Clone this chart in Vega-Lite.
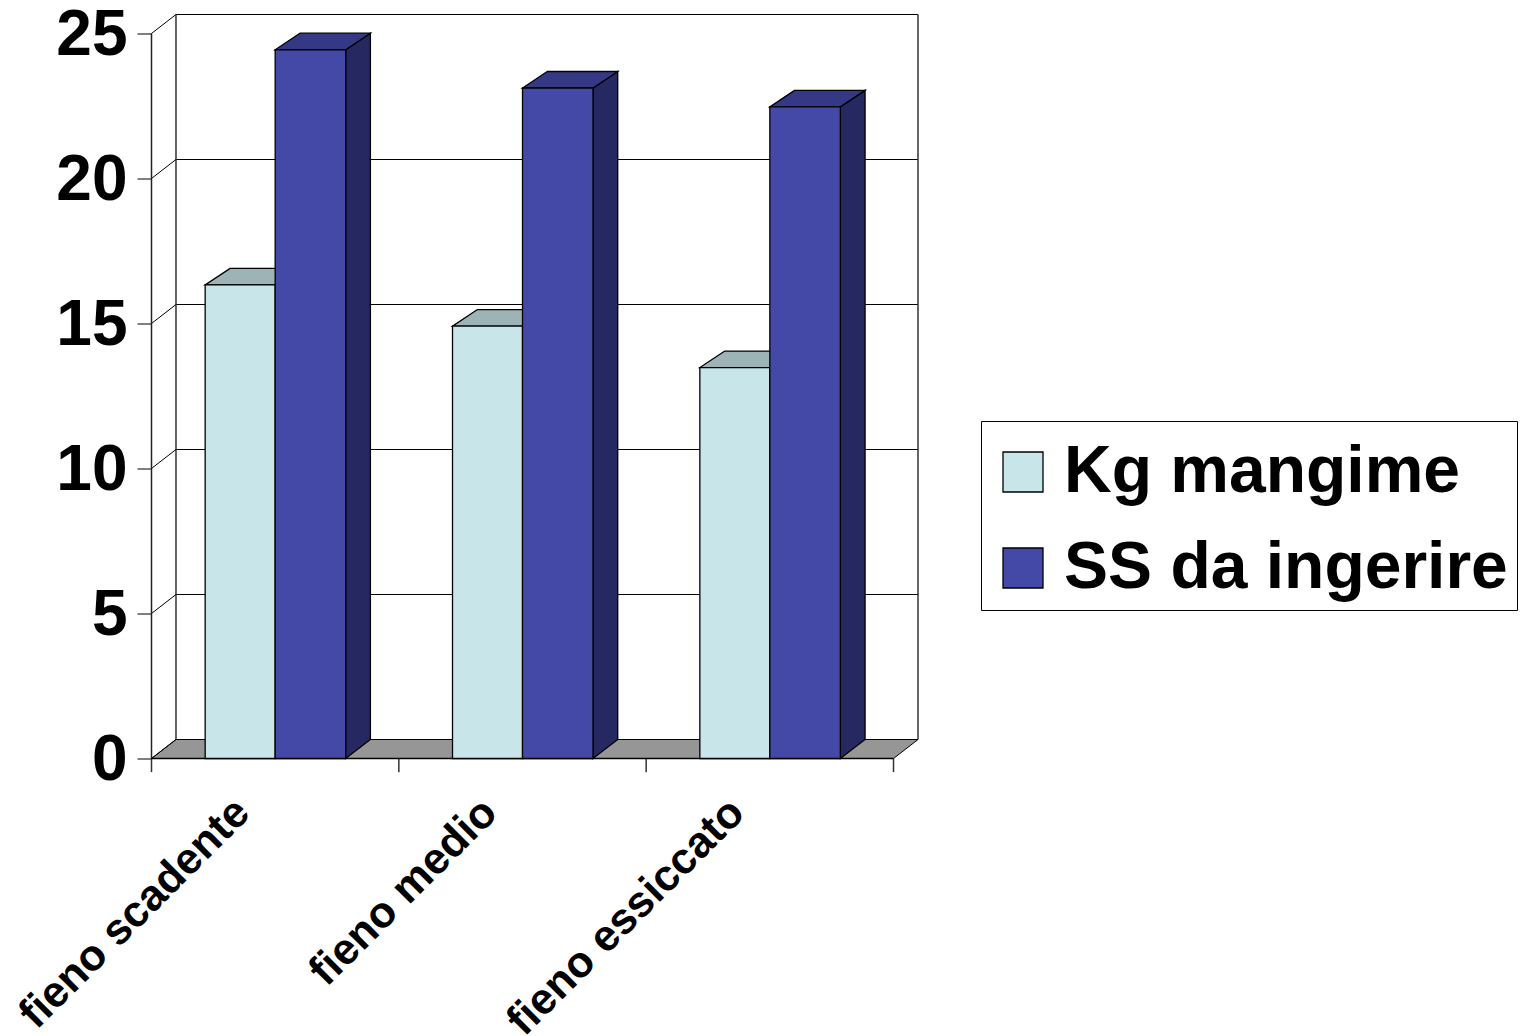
{
"$schema":"https://vega.github.io/schema/vega-lite/v6.json",
"autosize":{"type":"none"},
"padding":{"left":151.5,"top":14.5,"right":602,"bottom":277.5},
"background":"white",
"width":766.5,"height":744,
"view":{"stroke":null},
"datasets":{
"bars":[
{"category":"fieno scadente","series":"Kg mangime","value":16.33},
{"category":"fieno scadente","series":"SS da ingerire","value":24.44},
{"category":"fieno medio","series":"Kg mangime","value":14.91},
{"category":"fieno medio","series":"SS da ingerire","value":23.12},
{"category":"fieno essiccato","series":"Kg mangime","value":13.48},
{"category":"fieno essiccato","series":"SS da ingerire","value":22.47}],
"ticks":[{"tick":0},{"tick":5},{"tick":10},{"tick":15},{"tick":20},{"tick":25}],
"edges":[{"edge":0},{"edge":1},{"edge":2},{"edge":3}],
"floor":[{"k":0},{"k":1}]
},
"layer":[
{"data":{"name":"ticks"},"transform":[{"calculate":"datum.tick+0.655","as":"backY"}],
 "mark":{"type":"rule","color":"black","strokeWidth":1},
 "encoding":{"x":{"datum":0.099,"type":"quantitative","scale":{"domain":[0,3.099],"nice":false,"zero":false},
   "axis":{"values":[0.5,1.5,2.5],"title":null,"grid":false,"ticks":false,"domain":false,"labelExpr":"datum.value==0.5?'fieno scadente':datum.value==1.5?'fieno medio':'fieno essiccato'","labelAngle":-45,"labelAlign":"right","labelBaseline":"middle","labelFont":"Liberation Sans","labelFontWeight":"bold","labelFontSize":43.5,"labelColor":"black","labelPadding":47,"labelOffset":-33,"labelLimit":1000,"labelOverlap":false,"labelBound":false,"labelFlush":false}},
  "x2":{"datum":3.099},
  "y":{"field":"backY","type":"quantitative","scale":{"domain":[0,25.655],"nice":false,"zero":false},
   "axis":{"values":[0,5,10,15,20,25],"title":null,"grid":false,"domain":false,"tickSize":14.5,"tickColor":"black","labelFont":"Liberation Sans","labelFontWeight":"bold","labelFontSize":64,"labelColor":"black","labelPadding":10,"labelOffset":2,"labelOverlap":false,"labelBound":false,"labelFlush":false}}}},
{"data":{"name":"edges"},"transform":[{"filter":"datum.edge==0||datum.edge==3"},{"calculate":"datum.edge+0.099","as":"wallX"}],
 "mark":{"type":"rule","color":"#333333","strokeWidth":1.5},
 "encoding":{"x":{"field":"wallX","type":"quantitative"},"y":{"datum":0.655},"y2":{"datum":25.655}}},
{"data":{"name":"floor"},"transform":[{"calculate":"datum.k*0.099","as":"x0"},{"calculate":"3+datum.k*0.099","as":"x1"},{"calculate":"datum.k*0.655","as":"yy"}],
 "mark":{"type":"area","orient":"horizontal","fill":"#969696","stroke":"black","strokeWidth":1},
 "encoding":{"x":{"field":"x0","type":"quantitative"},"x2":{"field":"x1"},"y":{"field":"yy","type":"quantitative"}}},
{"data":{"name":"ticks"},"transform":[{"calculate":"datum.tick+0.655","as":"backY"},{"calculate":"0.099","as":"backX"},{"calculate":"0","as":"frontX"}],
 "mark":{"type":"rule","color":"black","strokeWidth":1},
 "encoding":{"x":{"field":"frontX","type":"quantitative"},"x2":{"field":"backX"},"y":{"field":"tick","type":"quantitative"},"y2":{"field":"backY"}}},
{"data":{"name":"edges"},
 "mark":{"type":"rule","color":"#333333","strokeWidth":1.5},
 "encoding":{"x":{"field":"edge","type":"quantitative"},"y":{"datum":0},"y2":{"datum":-0.47}}},
{"data":{"name":"edges"},"transform":[{"filter":"datum.edge==0"}],
 "mark":{"type":"rule","color":"#222222","strokeWidth":1.5},
 "encoding":{"x":{"field":"edge","type":"quantitative"},"y":{"datum":0},"y2":{"datum":25}}},
{"data":{"name":"edges"},"transform":[{"filter":"datum.edge==0"}],
 "mark":{"type":"rule","color":"black","strokeWidth":1.5},
 "encoding":{"x":{"datum":0},"x2":{"datum":3},"y":{"datum":0}}},
{"data":{"name":"bars"},"transform":[
  {"filter":"datum.series=='Kg mangime'"},
  {"calculate":"indexof(['fieno scadente','fieno medio','fieno essiccato'],datum.category)+0.217","as":"xl"},
  {"calculate":"datum.xl+0.285","as":"xr"},
  {"calculate":"[0,1]","as":"k"},{"flatten":["k"]},
  {"calculate":"datum.xl+datum.k*0.101","as":"tx0"},{"calculate":"datum.xr+datum.k*0.101","as":"tx1"},{"calculate":"datum.value+datum.k*0.57","as":"ty"}],
 "mark":{"type":"area","orient":"horizontal","fill":"#9DB4B6","stroke":"black","strokeWidth":1.3},
 "encoding":{"detail":{"field":"category"},"x":{"field":"tx0","type":"quantitative"},"x2":{"field":"tx1"},"y":{"field":"ty","type":"quantitative"}}},
{"data":{"name":"bars"},"transform":[
  {"filter":"datum.series=='SS da ingerire'"},
  {"calculate":"indexof(['fieno scadente','fieno medio','fieno essiccato'],datum.category)+0.785","as":"xr"},
  {"calculate":"[0,1]","as":"k"},{"flatten":["k"]},
  {"calculate":"datum.xr+datum.k*0.1","as":"sx"},{"calculate":"datum.value+datum.k*0.57","as":"sy"},{"calculate":"datum.k*0.655","as":"sy2"}],
 "mark":{"type":"area","orient":"vertical","fill":"#262862","stroke":"black","strokeWidth":1.3},
 "encoding":{"detail":{"field":"category"},"x":{"field":"sx","type":"quantitative"},"y":{"field":"sy","type":"quantitative"},"y2":{"field":"sy2"}}},
{"data":{"name":"bars"},"transform":[
  {"filter":"datum.series=='SS da ingerire'"},
  {"calculate":"indexof(['fieno scadente','fieno medio','fieno essiccato'],datum.category)+0.5","as":"xl"},
  {"calculate":"datum.xl+0.285","as":"xr"},
  {"calculate":"[0,1]","as":"k"},{"flatten":["k"]},
  {"calculate":"datum.xl+datum.k*0.1","as":"tx0"},{"calculate":"datum.xr+datum.k*0.1","as":"tx1"},{"calculate":"datum.value+datum.k*0.57","as":"ty"}],
 "mark":{"type":"area","orient":"horizontal","fill":"#353885","stroke":"black","strokeWidth":1.3},
 "encoding":{"detail":{"field":"category"},"x":{"field":"tx0","type":"quantitative"},"x2":{"field":"tx1"},"y":{"field":"ty","type":"quantitative"}}},
{"data":{"name":"bars"},"transform":[
  {"calculate":"indexof(['fieno scadente','fieno medio','fieno essiccato'],datum.category)+(datum.series=='Kg mangime'?0.217:0.5)","as":"xl"},
  {"calculate":"datum.series=='Kg mangime'?indexof(['fieno scadente','fieno medio','fieno essiccato'],datum.category)+0.5:datum.xl+0.285","as":"xr"}],
 "mark":{"type":"bar","stroke":"black","strokeWidth":1.3},
 "encoding":{"x":{"field":"xl","type":"quantitative"},"x2":{"field":"xr"},"y":{"field":"value","type":"quantitative"},"y2":{"datum":0},
  "color":{"field":"series","type":"nominal","scale":{"domain":["Kg mangime","SS da ingerire"],"range":["#C8E6E9","#4449A8"]},
   "legend":{"title":" ","titleFontSize":5,"titlePadding":4,"orient":"none","legendX":829.5,"legendY":406.5,"fillColor":"white","strokeColor":"black","padding":9,"symbolType":"square","symbolSize":1600,"symbolOffset":0,"symbolStrokeWidth":1.3,"symbolStrokeColor":"black","labelFont":"Liberation Sans","labelFontWeight":"bold","labelFontSize":66,"labelColor":"black","labelOffset":8,"labelLimit":1000,"rowPadding":30,"symbolOpacity":1}}}}
]
}
